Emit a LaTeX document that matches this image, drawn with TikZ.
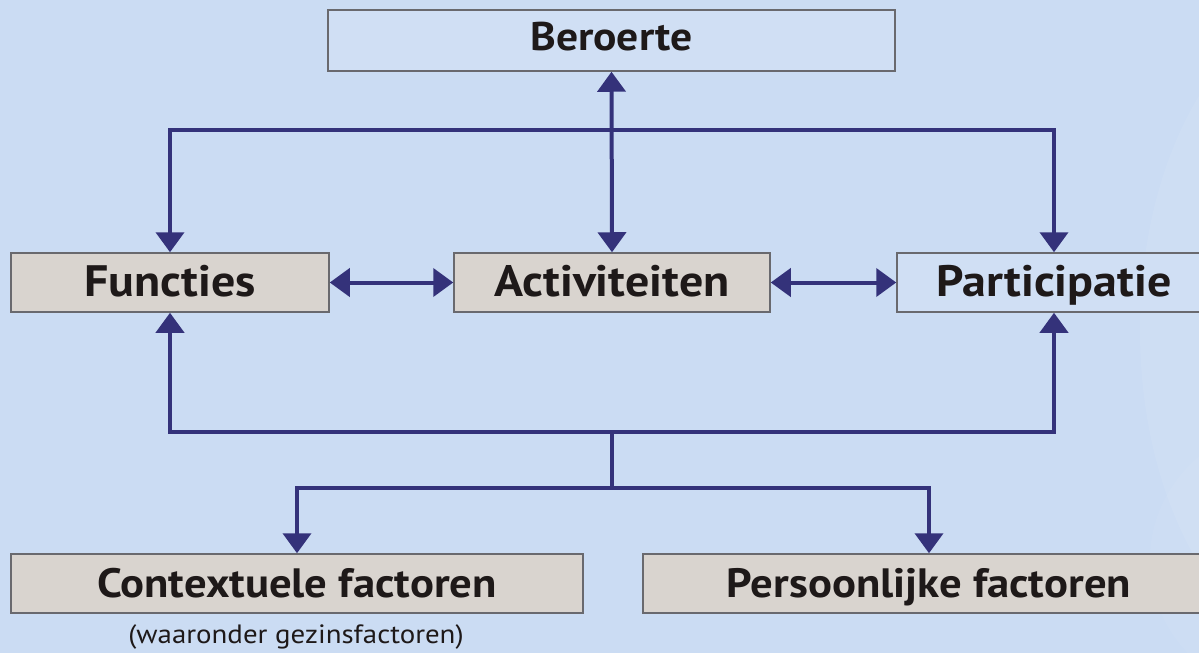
\documentclass[tikz,border=0pt]{standalone}
\usepackage{fontspec}
\setmainfont{PT Sans}
\newfontfamily\boxfont{PT Sans}[FakeStretch=1.09]
\usetikzlibrary{arrows.meta}
\definecolor{bg}{RGB}{203,220,243}
\definecolor{boxgray}{RGB}{217,212,207}
\definecolor{boxblue}{RGB}{208,223,244}
\definecolor{navy}{RGB}{52,50,122}
\definecolor{edgegray}{RGB}{105,105,110}
\definecolor{txt}{RGB}{30,25,25}
\begin{document}
\begin{tikzpicture}[x=1pt,y=-1pt,
  box/.style={draw=edgegray, line width=1.5pt, minimum height=59pt, inner sep=0pt, text=txt,
    text height=32pt, text depth=5pt,
    font=\boxfont\fontsize{44}{48}\selectfont\bfseries},
  graybox/.style={box, fill=boxgray},
  bluebox/.style={box, fill=boxblue},
  lowbox/.style={font=\boxfont\fontsize{41}{44}\selectfont\bfseries},
  conn/.style={draw=navy, line width=4pt, line join=miter},
  Tri/.tip={Triangle[length=20pt,width=28pt]}]
\fill[bg] (0,0) rectangle (1199,653);
\useasboundingbox (0,0) rectangle (1199,653);
\clip (0,0) rectangle (1199,653);
\fill[white, opacity=0.07] (1340,330) ellipse (200pt and 330pt);
\fill[white, opacity=0.05] (1300,560) ellipse (150pt and 140pt);

\node[bluebox, minimum width=567pt, minimum height=61pt, text height=28pt, text depth=9pt,
  font=\boxfont\fontsize{40}{44}\selectfont\bfseries] (ber) at (611.5,40.5) {Beroerte};
\node[graybox, minimum width=318pt] (fun) at (170,282.5) {Functies};
\node[graybox, minimum width=316pt] (act) at (612,282.5) {Activiteiten};
\node[bluebox, minimum width=314pt] (par) at (1054,282.5) {Participatie};
\node[graybox, minimum width=572pt, lowbox] (ctx) at (297,583.5) {Contextuele factoren};
\node[graybox, minimum width=572pt, lowbox] (per) at (929,583.5) {Persoonlijke factoren};
\node[text=txt, font=\boxfont\fontsize{26.5}{28}\selectfont, inner sep=0pt] (note) at (296,637) {(waaronder gezinsfactoren)};

\coordinate (tl) at (170,130);
\coordinate (tr) at (1054,130);
\coordinate (bl) at (170,432);
\coordinate (br) at (1054,432);
\coordinate (bm) at (612,432);
\coordinate (fm) at (612,488);

\draw[conn, Tri-Tri] (ber.south) -- (act.north);
\draw[conn, Tri-Tri] (fun.north) -- (tl) -- (tr) -- (par.north);
\draw[conn, Tri-Tri] (fun.east) -- (act.west);
\draw[conn, Tri-Tri] (act.east) -- (par.west);
\draw[conn, Tri-Tri] (fun.south) -- (bl) -- (br) -- (par.south);
\draw[conn] (bm) -- (fm);
\draw[conn, Tri-Tri] (ctx.north) -- (ctx.north |- fm) -- (per.north |- fm) -- (per.north);
\end{tikzpicture}
\end{document}
